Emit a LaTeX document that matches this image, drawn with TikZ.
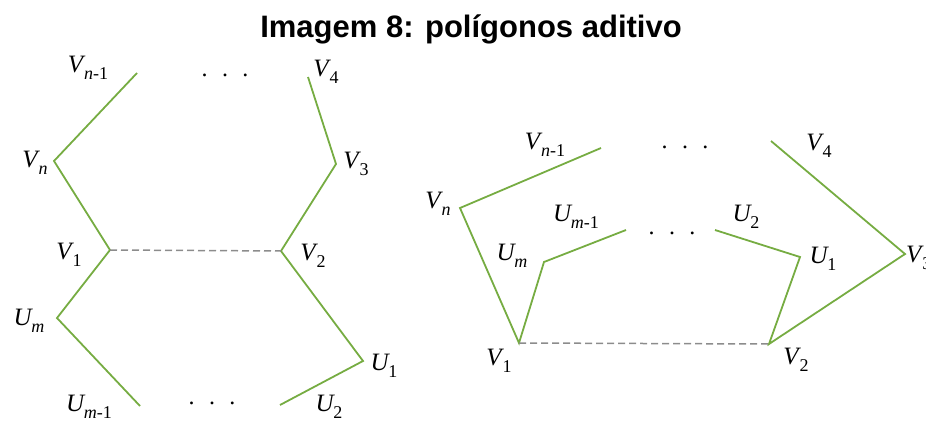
\documentclass[tikz,border=0pt]{standalone}
\usepackage{fontspec}
\newfontfamily\titlefont{Liberation Sans}
\newfontfamily\labfont{Liberation Serif}
\definecolor{lgreen}{RGB}{118,172,66}
\definecolor{dgray}{RGB}{140,140,140}
\newcommand{\vlab}[2]{\textit{#1}\kern-0.06em\raisebox{-0.3em}{\fontsize{18}{19}\selectfont #2}}
\newcommand{\mysub}[1]{\textit{#1}}
\newcommand{\threedots}{.\hspace{0.6em}.\hspace{0.6em}.}
\begin{document}
\begin{tikzpicture}[x=1pt,y=-1pt,
  edge/.style={draw=lgreen,line width=1.8pt},
  dashline/.style={draw=dgray,line width=1.5pt,dash pattern=on 7pt off 4pt},
  lbl/.style={inner sep=0pt,font=\labfont\fontsize{25}{27}\selectfont},
  dots/.style={inner sep=0pt,font=\labfont\fontsize{24}{26}\selectfont}]
\useasboundingbox (0,0) rectangle (926,423);
\node[inner sep=0pt,font=\titlefont\bfseries\fontsize{31}{33}\selectfont] (title) at (471,29) {Imagem 8: polígonos aditivo};
% left polygon
\coordinate (aVn1) at (137,73);
\coordinate (aVn) at (54,161);
\coordinate (aV1) at (110,250);
\coordinate (aV2) at (281,251);
\coordinate (aV3) at (336,164);
\coordinate (aV4) at (308,77);
\coordinate (aUm) at (57,318);
\coordinate (aUm1) at (140,406);
\coordinate (aU1) at (363,361);
\coordinate (aU2) at (280,405);
\draw[edge,line join=miter] (aVn1) -- (aVn) -- (aV1) -- (aUm) -- (aUm1);
\draw[edge,line join=miter] (aV4) -- (aV3) -- (aV2) -- (aU1) -- (aU2);
\draw[dashline] (aV1) -- (aV2);
\node[dots] (adt) at (225,75) {\threedots};
\node[dots] (adb) at (212,403) {\threedots};
\node[lbl] (laVn1) at (88,68) {\vlab{V}{\mysub{n}-1}};
\node[lbl] (laVn) at (35,163) {\vlab{V}{\mysub{n}}};
\node[lbl] (laV4) at (326,72) {\vlab{V}{4}};
\node[lbl] (laV3) at (356,164) {\vlab{V}{3}};
\node[lbl] (laV1) at (69,255) {\vlab{V}{1}};
\node[lbl] (laV2) at (313,256) {\vlab{V}{2}};
\node[lbl] (laUm) at (29,321) {\vlab{U}{\mysub{m}}};
\node[lbl] (laUm1) at (89,407) {\vlab{U}{\mysub{m}-1}};
\node[lbl] (laU1) at (384,366) {\vlab{U}{1}};
\node[lbl] (laU2) at (329,407) {\vlab{U}{2}};
% right polygon
\coordinate (bVn1) at (601,148);
\coordinate (bVn) at (460,208);
\coordinate (bV1) at (519,343);
\coordinate (bV2) at (769,344);
\coordinate (bV3) at (905,254);
\coordinate (bV4) at (771,141);
\coordinate (bUm) at (544,262);
\coordinate (bUm1) at (626,230);
\coordinate (bU1) at (800,257);
\coordinate (bU2) at (715,230);
\draw[edge,line join=miter] (bVn1) -- (bVn) -- (bV1) -- (bUm) -- (bUm1);
\draw[edge,line join=miter] (bV4) -- (bV3) -- (bV2) -- (bU1) -- (bU2);
\draw[dashline] (bV1) -- (bV2);
\node[dots] (bdt) at (685,147) {\threedots};
\node[dots] (bdm) at (672,233) {\threedots};
\node[lbl] (lbVn1) at (545,145) {\vlab{V}{\mysub{n}-1}};
\node[lbl] (lbV4) at (819,146) {\vlab{V}{4}};
\node[lbl] (lbVn) at (438,204) {\vlab{V}{\mysub{n}}};
\node[lbl] (lbUm1) at (576,217) {\vlab{U}{\mysub{m}-1}};
\node[lbl] (lbU2) at (746,217) {\vlab{U}{2}};
\node[lbl] (lbUm) at (512,256) {\vlab{U}{\mysub{m}}};
\node[lbl] (lbU1) at (823,259) {\vlab{U}{1}};
\node[lbl,anchor=west] (lbV3) at (906,258) {\vlab{V}{3}};
\node[lbl] (lbV1) at (499,361) {\vlab{V}{1}};
\node[lbl] (lbV2) at (796,360) {\vlab{V}{2}};
\end{tikzpicture}
\end{document}
